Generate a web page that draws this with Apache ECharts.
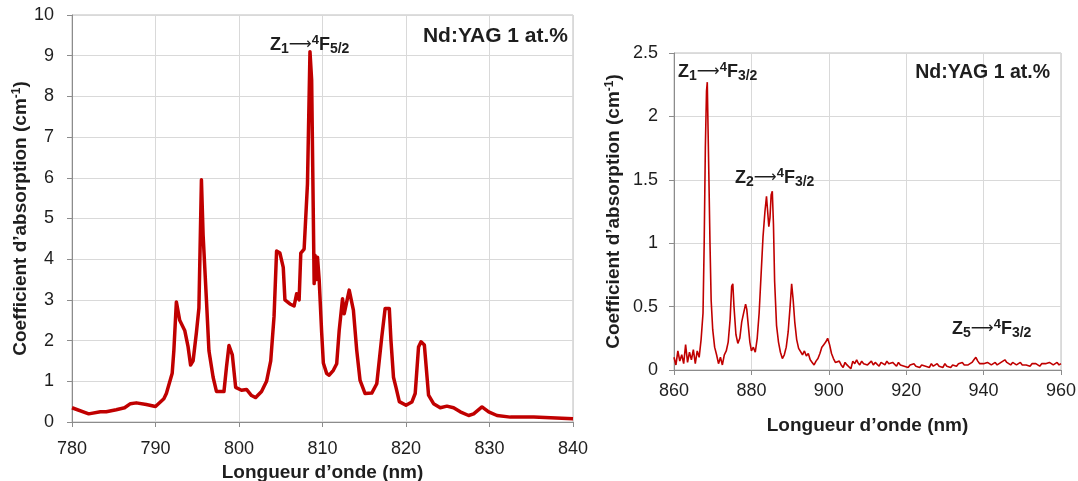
<!DOCTYPE html>
<html><head><meta charset="utf-8">
<script src="https://cdn.jsdelivr.net/npm/echarts@6/dist/echarts.min.js"></script>
<style>html,body{margin:0;padding:0;background:#fff}#c{width:1078px;height:481px}</style>
</head><body><div id="c"></div>
<script>
// ---- Left spectrum (Z1 -> 4F5/2 region) ----
const leftWavelength = [780,782,783.4,784.1,785.3,786.3,787,787.7,788.9,790,791,791.3,792,792.2,792.5,792.9,793.5,793.9,794.2,794.5,794.9,795.2,795.5,795.7,796.1,796.4,796.9,797.3,797.9,798.2,798.5,798.8,799.2,799.6,800.3,800.9,801.5,802,802.7,803.3,803.8,804.2,804.5,804.9,805.3,805.5,806.1,806.6,806.9,807.2,807.4,807.8,808.2,808.5,808.7,809.0,809.1,809.3,809.4,809.6,809.9,810.1,810.5,810.8,811.3,811.7,812,812.4,812.6,813.2,813.7,814.1,814.5,815.1,815.9,816.5,817.1,817.5,818,818.2,818.5,818.8,819.2,820,820.7,821.1,821.5,821.8,822.2,822.7,823.3,824.1,824.9,825.7,826.5,827.5,828.1,829.1,829.9,830.9,832.5,835.3,840];
const leftAbsorption = [0.35,0.2,0.25,0.25,0.3,0.35,0.45,0.47,0.43,0.38,0.57,0.7,1.2,1.76,2.95,2.5,2.25,1.85,1.4,1.5,2.2,2.8,5.95,4.6,3.0,1.75,1.1,0.75,0.75,0.75,1.35,1.88,1.65,0.85,0.78,0.8,0.65,0.6,0.75,1.0,1.5,2.6,4.2,4.15,3.8,3.0,2.9,2.85,3.15,3.0,4.15,4.25,5.85,9.1,8.4,3.4,4.1,3.5,4.05,3.5,2.2,1.45,1.19,1.15,1.27,1.43,2.25,3.03,2.66,3.24,2.75,1.76,1.02,0.7,0.71,0.94,2.09,2.79,2.79,2.0,1.1,0.85,0.5,0.41,0.49,0.7,1.84,1.97,1.89,0.66,0.45,0.35,0.39,0.35,0.25,0.16,0.2,0.37,0.25,0.16,0.12,0.12,0.08];

// ---- Right spectrum (4F3/2 region) ----
const rightWavelength = [860,860.5,861,861.5,862,862.5,863,863.5,864,864.5,865,865.5,866,866.5,867,867.5,867.8,868.1,868.4,868.6,868.8,869,869.3,869.6,870,870.5,871,871.5,872,872.5,873,873.5,874,874.5,874.9,875.2,875.5,876,876.5,877,877.5,878,878.5,878.8,879.2,879.6,880,880.5,881,881.5,882,882.5,883,883.5,883.9,884.2,884.5,884.8,885.1,885.4,885.7,886,886.5,887,887.5,888,888.5,889,889.5,890,890.4,890.8,891.2,891.7,892.2,892.7,893.2,893.7,894.2,894.7,895.2,895.7,896.2,896.7,897.2,897.7,898.2,898.7,899.2,899.7,900.2,900.7,901.2,901.7,902.2,902.7,903.2,903.7,904.2,904.7,905.2,905.7,906.2,906.7,907.2,907.5,908,908.5,909,909.5,910,910.5,911,911.5,912,912.5,913,913.5,914,914.5,915,915.5,916,916.5,917,917.5,918,918.5,919,919.5,920,920.5,921,921.5,922,922.5,923,923.5,924,924.5,925,925.5,926,926.5,927,927.5,928,928.5,929,929.5,930,930.5,931,931.5,932,932.5,933,933.5,934,934.5,935,935.5,936,936.5,937,937.5,938,938.5,939,939.5,940,940.5,941,941.5,942,942.5,943,943.5,944,944.5,945,945.5,946,946.5,947,947.5,948,948.5,949,949.5,950,950.5,951,951.5,952,952.5,953,953.5,954,954.5,955,955.5,956,956.5,957,957.5,958,958.5,959,959.5,960];
const rightAbsorption = [0.10,0.04,0.15,0.07,0.12,0.05,0.20,0.06,0.14,0.08,0.16,0.05,0.15,0.10,0.24,0.45,1.0,1.75,2.2,2.27,1.9,1.55,1.0,0.55,0.32,0.18,0.12,0.05,0.10,0.04,0.12,0.15,0.22,0.40,0.66,0.68,0.50,0.28,0.21,0.25,0.38,0.45,0.52,0.48,0.35,0.22,0.15,0.18,0.14,0.25,0.45,0.75,1.05,1.25,1.37,1.25,1.13,1.20,1.38,1.41,1.15,0.70,0.35,0.22,0.14,0.09,0.12,0.18,0.30,0.50,0.68,0.55,0.38,0.24,0.17,0.18,0.12,0.15,0.11,0.13,0.08,0.06,0.04,0.07,0.09,0.13,0.18,0.20,0.22,0.25,0.20,0.13,0.09,0.06,0.05,0.07,0.04,0.02,0.06,0.04,0.03,0.01,0.07,0.05,0.08,0.06,0.04,0.07,0.05,0.06,0.04,0.05,0.07,0.04,0.06,0.05,0.03,0.06,0.05,0.04,0.07,0.05,0.04,0.06,0.05,0.03,0.06,0.04,0.05,0.03,0.04,0.02,0.04,0.03,0.05,0.03,0.04,0.02,0.04,0.05,0.03,0.04,0.02,0.05,0.03,0.04,0.05,0.03,0.04,0.02,0.05,0.03,0.04,0.02,0.04,0.05,0.03,0.05,0.04,0.06,0.04,0.05,0.04,0.05,0.06,0.08,0.10,0.07,0.05,0.04,0.05,0.04,0.06,0.05,0.04,0.05,0.06,0.04,0.05,0.06,0.07,0.08,0.06,0.05,0.04,0.06,0.05,0.04,0.05,0.06,0.04,0.05,0.04,0.05,0.03,0.05,0.04,0.05,0.04,0.03,0.05,0.04,0.05,0.04,0.06,0.05,0.04,0.05,0.06,0.04,0.05];

const leftXRange = [780, 840, 10];
const leftYRange = [0, 10, 1];
const rightXRange = [860, 960, 20];
const rightYRange = [0, 2.5, 0.5];

const FONT = '"Liberation Sans", Arial, sans-serif';
const RED = '#c00000';
const TXT = '#1e1e1e';

function zip(xs, ys) { return xs.map((x, i) => [x, ys[i]]); }

const yName = 'Coefficient d\u2019absorption (cm{sup|-1})';
function axisX(gridIndex, r, gap, labelMargin) {
  return {
    gridIndex, type: 'value', min: r[0], max: r[1], interval: r[2],
    name: 'Longueur d\u2019onde (nm)', nameLocation: 'middle', nameGap: gap,
    nameTextStyle: { fontFamily: FONT, fontSize: 19, fontWeight: 'bold', color: TXT },
    axisLine: { show: true, lineStyle: { color: '#8c8c8c', width: 1 } },
    axisTick: { show: true, inside: false, length: 5, lineStyle: { color: '#8c8c8c' } },
    axisLabel: { fontFamily: FONT, fontSize: 18, color: TXT, margin: labelMargin },
    splitLine: { show: true, lineStyle: { color: '#d9d9d9', width: 1 } }
  };
}
function axisY(gridIndex, r, gap, labelMargin) {
  return {
    gridIndex, type: 'value', min: r[0], max: r[1], interval: r[2],
    name: yName, nameLocation: 'middle', nameGap: gap, nameRotate: 90,
    nameTextStyle: { fontFamily: FONT, fontSize: 19, fontWeight: 'bold', color: TXT,
      rich: { sup: { fontFamily: FONT, fontSize: 12, fontWeight: 'bold', color: TXT, verticalAlign: 'top', lineHeight: 12 } } },
    axisLine: { show: true, lineStyle: { color: '#8c8c8c', width: 1 } },
    axisTick: { show: true, inside: false, length: 5, lineStyle: { color: '#8c8c8c' } },
    axisLabel: { fontFamily: FONT, fontSize: 18, color: TXT, margin: labelMargin },
    splitLine: { show: true, lineStyle: { color: '#d9d9d9', width: 1 } }
  };
}

const richStyles = {
  m: { fontFamily: FONT, fontSize: 18, fontWeight: 'bold', fill: TXT, lineHeight: 22 },
  a: { fontFamily: '"DejaVu Sans", sans-serif', fontSize: 16, fill: TXT, lineHeight: 22 },
  sub: { fontFamily: FONT, fontSize: 14, fontWeight: 'bold', fill: TXT, lineHeight: 13, verticalAlign: 'bottom' },
  sup: { fontFamily: FONT, fontSize: 13, fontWeight: 'bold', fill: TXT, lineHeight: 12, verticalAlign: 'top' }
};
function trans(x, y, z, f) {
  return { type: 'text', x, y, z: 100,
    style: { text: '{m|Z}{sub|' + z + '}{a|\u27F6}{sup|4}{m|F}{sub|' + f + '}', rich: richStyles, verticalAlign: 'top' } };
}
function sample(x, y, size) {
  return { type: 'text', x, y, z: 100,
    style: { text: 'Nd:YAG 1 at.%', font: 'bold ' + size + 'px ' + FONT, fill: TXT, align: 'right', verticalAlign: 'middle' } };
}

const chart = echarts.init(document.getElementById('c'), null, { renderer: 'canvas' });
chart.setOption({
  animation: false,
  backgroundColor: '#fff',
  grid: [
    { left: 72, top: 15, width: 501, height: 407, show: true, borderColor: '#bcbcbc', borderWidth: 1, backgroundColor: 'transparent', containLabel: false, outerBoundsMode: 'none' },
    { left: 674, top: 53, width: 387, height: 317, show: true, borderColor: '#bcbcbc', borderWidth: 1, backgroundColor: 'transparent', containLabel: false, outerBoundsMode: 'none' }
  ],
  xAxis: [axisX(0, leftXRange, 40, 18), axisX(1, rightXRange, 46, 12)],
  yAxis: [axisY(0, leftYRange, 42, 18), axisY(1, rightYRange, 51, 16)],
  series: [
    { type: 'line', xAxisIndex: 0, yAxisIndex: 0, data: zip(leftWavelength, leftAbsorption), showSymbol: false, symbol: 'none', lineStyle: { color: RED, width: 3.5, join: 'round' }, z: 5 },
    { type: 'line', xAxisIndex: 1, yAxisIndex: 1, data: zip(rightWavelength, rightAbsorption), showSymbol: false, symbol: 'none', lineStyle: { color: RED, width: 1.6 }, z: 5 }
  ],
  graphic: [
    trans(270, 34, '1', '5/2'),
    sample(568, 36, 21),
    trans(678, 61, '1', '3/2'),
    sample(1050, 73, 19.5),
    trans(735, 167, '2', '3/2'),
    trans(952, 318, '5', '3/2')
  ]
});
</script>
</body></html>
